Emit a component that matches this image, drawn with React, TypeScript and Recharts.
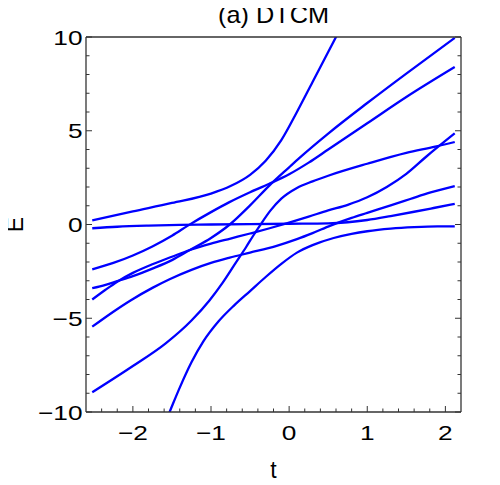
import React from 'react';
import { LineChart, Line, XAxis, YAxis, Label } from 'recharts';

type Pt = [number, number];

// Energy levels E(t)
const levelA: Pt[] = [[-2.52,0.22],[-2.0,0.7],[-1.5,1.15],[-1.0,1.65],[-0.75,2.05],[-0.5,2.65],[-0.3,3.4],[-0.1,4.5],[0.1,6.0],[0.3,7.6],[0.5,9.2],[0.7,10.8]];
const levelB: Pt[] = [[-2.52,-0.2],[-2.2,-0.12],[-1.8,-0.06],[-1.4,-0.02],[-1.0,0.0],[-0.5,0.02],[0,0.04],[0.5,0.06],[0.75,0.12],[1.0,0.24],[1.3,0.45],[1.6,0.68],[1.85,0.88],[2.12,1.1]];
const levelC: Pt[] = [[-2.52,-2.39],[-2.25,-2.05],[-2.0,-1.65],[-1.75,-1.17],[-1.5,-0.6],[-1.28,-0.02],[-1.0,0.66],[-0.77,1.18],[-0.5,1.72],[-0.26,2.16],[0,2.68],[0.25,3.3],[0.5,4.0],[1.0,5.4],[1.5,6.8],[2.12,8.4]];
const levelD: Pt[] = [[-2.52,-3.4],[-2.35,-3.22],[-2.2,-3.02],[-2.0,-2.75],[-1.75,-2.35],[-1.5,-1.9],[-1.27,-1.36],[-1.0,-0.72],[-0.76,0.0],[-0.5,1.02],[-0.26,2.05],[0,3.05],[0.14,3.58],[0.5,4.85],[1.0,6.48],[1.5,8.05],[2.12,9.95]];
const levelF: Pt[] = [[-2.52,-4.0],[-2.35,-3.48],[-2.2,-3.05],[-2.0,-2.58],[-1.75,-2.12],[-1.5,-1.72],[-1.27,-1.36],[-1.0,-1.02],[-0.75,-0.75],[-0.5,-0.48],[-0.25,-0.2],[0,0.1],[0.25,0.42],[0.5,0.75],[0.75,1.05],[1.0,1.45],[1.25,2.0],[1.5,2.7],[1.75,3.6],[2.12,4.86]];
const levelG: Pt[] = [[-2.52,-8.95],[-2.0,-7.55],[-1.58,-6.34],[-1.25,-5.12],[-1.02,-4.05],[-0.85,-3.1],[-0.68,-2.02],[-0.55,-1.2],[-0.46,-0.6],[-0.37,-0.03],[-0.24,0.74],[-0.1,1.38],[0.1,1.95],[0.3,2.3],[0.5,2.6],[1.0,3.24],[1.5,3.82],[1.87,4.15],[2.12,4.4]];
const levelH: Pt[] = [[-2.52,-5.45],[-2.25,-4.65],[-2.03,-4.05],[-1.75,-3.38],[-1.53,-2.92],[-1.25,-2.42],[-1.0,-2.05],[-0.76,-1.77],[-0.5,-1.5],[-0.17,-1.15],[0.1,-0.78],[0.3,-0.46],[0.53,-0.06],[0.8,0.35],[1.0,0.62],[1.3,1.02],[1.55,1.36],[1.8,1.7],[2.12,2.05]];
const levelI: Pt[] = [[-1.6,-10.7],[-1.53,-10.0],[-1.4,-8.7],[-1.25,-7.35],[-1.1,-6.25],[-0.9,-5.15],[-0.7,-4.3],[-0.5,-3.55],[-0.3,-2.8],[-0.1,-2.1],[0.1,-1.5],[0.3,-1.1],[0.57,-0.72],[0.8,-0.5],[1.0,-0.36],[1.3,-0.22],[1.6,-0.14],[1.9,-0.1],[2.12,-0.1]];

const levels: Pt[][] = [levelA, levelB, levelC, levelD, levelF, levelG, levelH, levelI];

const xTicks = [-2.4,-2.2,-2,-1.8,-1.6,-1.4,-1.2,-1,-0.8,-0.6,-0.4,-0.2,0,0.2,0.4,0.6,0.8,1,1.2,1.4,1.6,1.8,2];
const xMajor = [-2,-1,0,1,2];
const yTicks = [-10,-9,-8,-7,-6,-5,-4,-3,-2,-1,0,1,2,3,4,5,6,7,8,9,10];
const yMajor = [-10,-5,0,5,10];
const xDomain = [-2.6, 2.2];
const yDomain = [-10, 10];

const titleText = '(a) DTCM';
const xLabelText = 't';
const yLabelText = 'E';

const W = 500;
const H = 485;
// plot area in page pixels
const PL = 86, PT = 37, PR = 461, PB = 412;
const AX_B = 30, AX_T = 20, AX_L = 60, AX_R = 20;
const M = { top: PT - AX_T, right: W - PR - AX_R, bottom: H - PB - AX_B, left: PL - AX_L };
const PW = PR - PL;
const PH = PB - PT;

const FRAME = '#333333';
const BLUE = '#0000ff';
const FONT = "'Liberation Sans', Arial, Helvetica, sans-serif";
const MAJ = 6;
const MIN = 3.5;
const TICK_FS = 21;
const SX = 1.25;

const toRows = (pts: Pt[]) => pts.map(([t, E]) => ({ t, E }));
const isIn = (v: number, arr: number[]) => arr.some((m) => Math.abs(m - v) < 1e-9);
const fmt = (v: number) => (v < 0 ? '\u2212' + Math.abs(v) : String(v));

const BottomTick = (p: any) => {
  const { x, y, payload } = p;
  const v = payload.value as number;
  const major = isIn(v, xMajor);
  return (
    <g>
      <line x1={x} y1={y} x2={x} y2={y - (major ? MAJ : MIN)} stroke={FRAME} strokeWidth={1} />
      {major && (
        <text transform={`translate(${x},${y + 28}) scale(${SX},1)`} textAnchor="middle" fontSize={TICK_FS} fontFamily={FONT} fill="#000">
          {fmt(v)}
        </text>
      )}
    </g>
  );
};

const TopTick = (p: any) => {
  const { x, y, payload } = p;
  const major = isIn(payload.value, xMajor);
  return <line x1={x} y1={y} x2={x} y2={y + (major ? MAJ : MIN)} stroke={FRAME} strokeWidth={1} />;
};

const LeftTick = (p: any) => {
  const { x, y, payload } = p;
  const v = payload.value as number;
  const major = isIn(v, yMajor);
  return (
    <g>
      <line x1={x} y1={y} x2={x + (major ? MAJ : MIN)} y2={y} stroke={FRAME} strokeWidth={1} />
      {major && (
        <text transform={`translate(${x - 3.5},${y + 7.5}) scale(${SX},1)`} textAnchor="end" fontSize={TICK_FS} fontFamily={FONT} fill="#000">
          {fmt(v)}
        </text>
      )}
    </g>
  );
};

const RightTick = (p: any) => {
  const { x, y, payload } = p;
  const major = isIn(payload.value, yMajor);
  return <line x1={x} y1={y} x2={x - (major ? MAJ : MIN)} y2={y} stroke={FRAME} strokeWidth={1} />;
};

const TitleLabel = () => (
  <text transform={`translate(${PL + PW / 2},${PT - 14}) scale(1.1,1)`} textAnchor="middle" fontSize={23} fontFamily={FONT} fill="#000">
    {titleText}
  </text>
);

const XLabel = () => (
  <text x={PL + PW / 2} y={PB + 66} textAnchor="middle" fontSize={23} fontFamily={FONT} fill="#000">
    {xLabelText}
  </text>
);

const YLabel = () => (
  <text transform={`translate(${PL - 63},${PT + PH / 2}) rotate(-90)`} textAnchor="middle" fontSize={23} fontFamily={FONT} fill="#000">
    {yLabelText}
  </text>
);

const frameLine = { stroke: FRAME, strokeWidth: 1.3 };

export default function App() {
  return (
    <div style={{ width: W, height: H, marginLeft: -8, marginTop: -8 }}>
      <LineChart width={W} height={H} margin={M}>
        <XAxis
          xAxisId="b"
          dataKey="t"
          type="number"
          domain={xDomain}
          allowDataOverflow
          ticks={xTicks}
          interval={0}
          height={AX_B}
          tickSize={0}
          tickMargin={0}
          tickLine={false}
          axisLine={frameLine}
          tick={BottomTick}
          label={<Label content={XLabel} />}
        />
        <XAxis
          xAxisId="top"
          orientation="top"
          type="number"
          domain={xDomain}
          allowDataOverflow
          ticks={xTicks}
          interval={0}
          height={AX_T}
          tickSize={0}
          tickMargin={0}
          tickLine={false}
          axisLine={frameLine}
          tick={TopTick}
          label={<Label content={TitleLabel} />}
        />
        <YAxis
          yAxisId="l"
          type="number"
          domain={yDomain}
          allowDataOverflow
          ticks={yTicks}
          interval={0}
          width={AX_L}
          tickSize={0}
          tickMargin={0}
          tickLine={false}
          axisLine={frameLine}
          tick={LeftTick}
          label={<Label content={YLabel} />}
        />
        <YAxis
          yAxisId="r"
          orientation="right"
          type="number"
          domain={yDomain}
          allowDataOverflow
          ticks={yTicks}
          interval={0}
          width={AX_R}
          tickSize={0}
          tickMargin={0}
          tickLine={false}
          axisLine={frameLine}
          tick={RightTick}
        />
        {levels.map((lv, i) => (
          <Line
            key={i}
            xAxisId="b"
            yAxisId="l"
            data={toRows(lv)}
            dataKey="E"
            type="monotone"
            dot={false}
            stroke={BLUE}
            strokeWidth={2.3}
            isAnimationActive={false}
          />
        ))}
      </LineChart>
    </div>
  );
}
